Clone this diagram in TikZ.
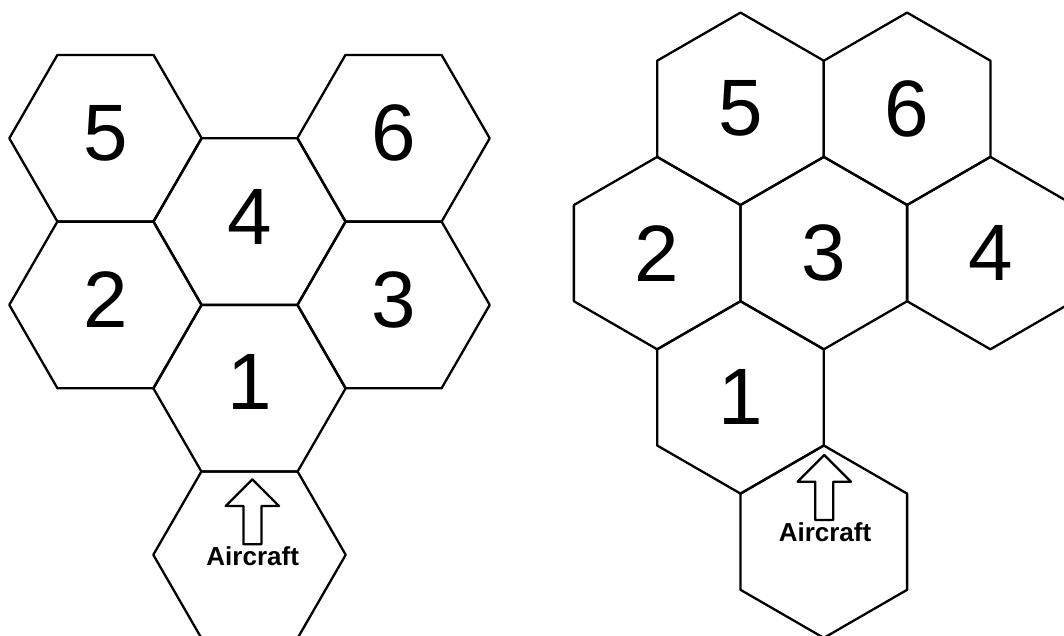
\documentclass[tikz,border=0pt]{standalone}
\usepackage{fontspec}
\setmainfont{Liberation Sans}
\begin{document}
\begin{tikzpicture}[x=1pt,y=-1pt,line width=2.3pt,line join=round,
  digit/.style={font=\fontsize{80}{80}\selectfont,inner sep=0pt},
  acft/.style={font=\fontsize{26}{26}\selectfont\bfseries,inner sep=0pt},
  blockarrow/.pic={\draw (0,0) -- (26.7,26.7) -- (9,26.7) -- (9,65) -- (-9,65) -- (-9,26.7) -- (-26.7,26.7) -- cycle;}]
\clip (0,0) rectangle (1064,635);
\fill[white] (0,0) rectangle (1064,635);
% flat-top hexagons (left)
\def\R{96.2}
\foreach \n/\x/\y in {L5/105.5/138.3, L6/393.5/138.3, L4/249.5/221.6, L2/105.5/304.9, L3/393.5/304.9, L1/249.5/388.2, LA/249.5/554.8}{
  \coordinate (\n) at (\x,\y);
  \draw (\n) +(0:\R) -- +(60:\R) -- +(120:\R) -- +(180:\R) -- +(240:\R) -- +(300:\R) -- cycle;
}
% pointy-top hexagons (right)
\def\Rr{96.2}
\foreach \n/\x/\y in {R5/740.5/108.8, R6/907.1/108.8, R2/657.2/253.1, R3/823.8/253.1, R4/990.4/253.1, R1/740.5/397.4, RA/823.8/541.7}{
  \coordinate (\n) at (\x,\y);
  \draw (\n) +(30:\Rr) -- +(90:\Rr) -- +(150:\Rr) -- +(210:\Rr) -- +(270:\Rr) -- +(330:\Rr) -- cycle;
}
% left labels
\node[digit] (l5) at ([yshift=5pt]L5) {5};
\node[digit] (l6) at ([yshift=5pt]L6) {6};
\node[digit] (l4) at ([yshift=5pt]L4) {4};
\node[digit] (l2) at ([yshift=5pt]L2) {2};
\node[digit] (l3) at ([yshift=5pt]L3) {3};
\node[digit] (l1) at ([yshift=6pt]L1) {1};
% right labels
\node[digit] (r5) at (R5) {5};
\node[digit] (r6) at (R6) {6};
\node[digit] (r2) at (R2) {2};
\node[digit] (r3) at (R3) {3};
\node[digit] (r4) at (R4) {4};
\node[digit] (r1) at (R1) {1};
% aircraft markers
\pic at (252.4,479.3) {blockarrow};
\node[acft] (la) at (252.7,556) {Aircraft};
\pic at (824.3,455) {blockarrow};
\node[acft] (ra) at (825,532) {Aircraft};
\end{tikzpicture}
\end{document}
